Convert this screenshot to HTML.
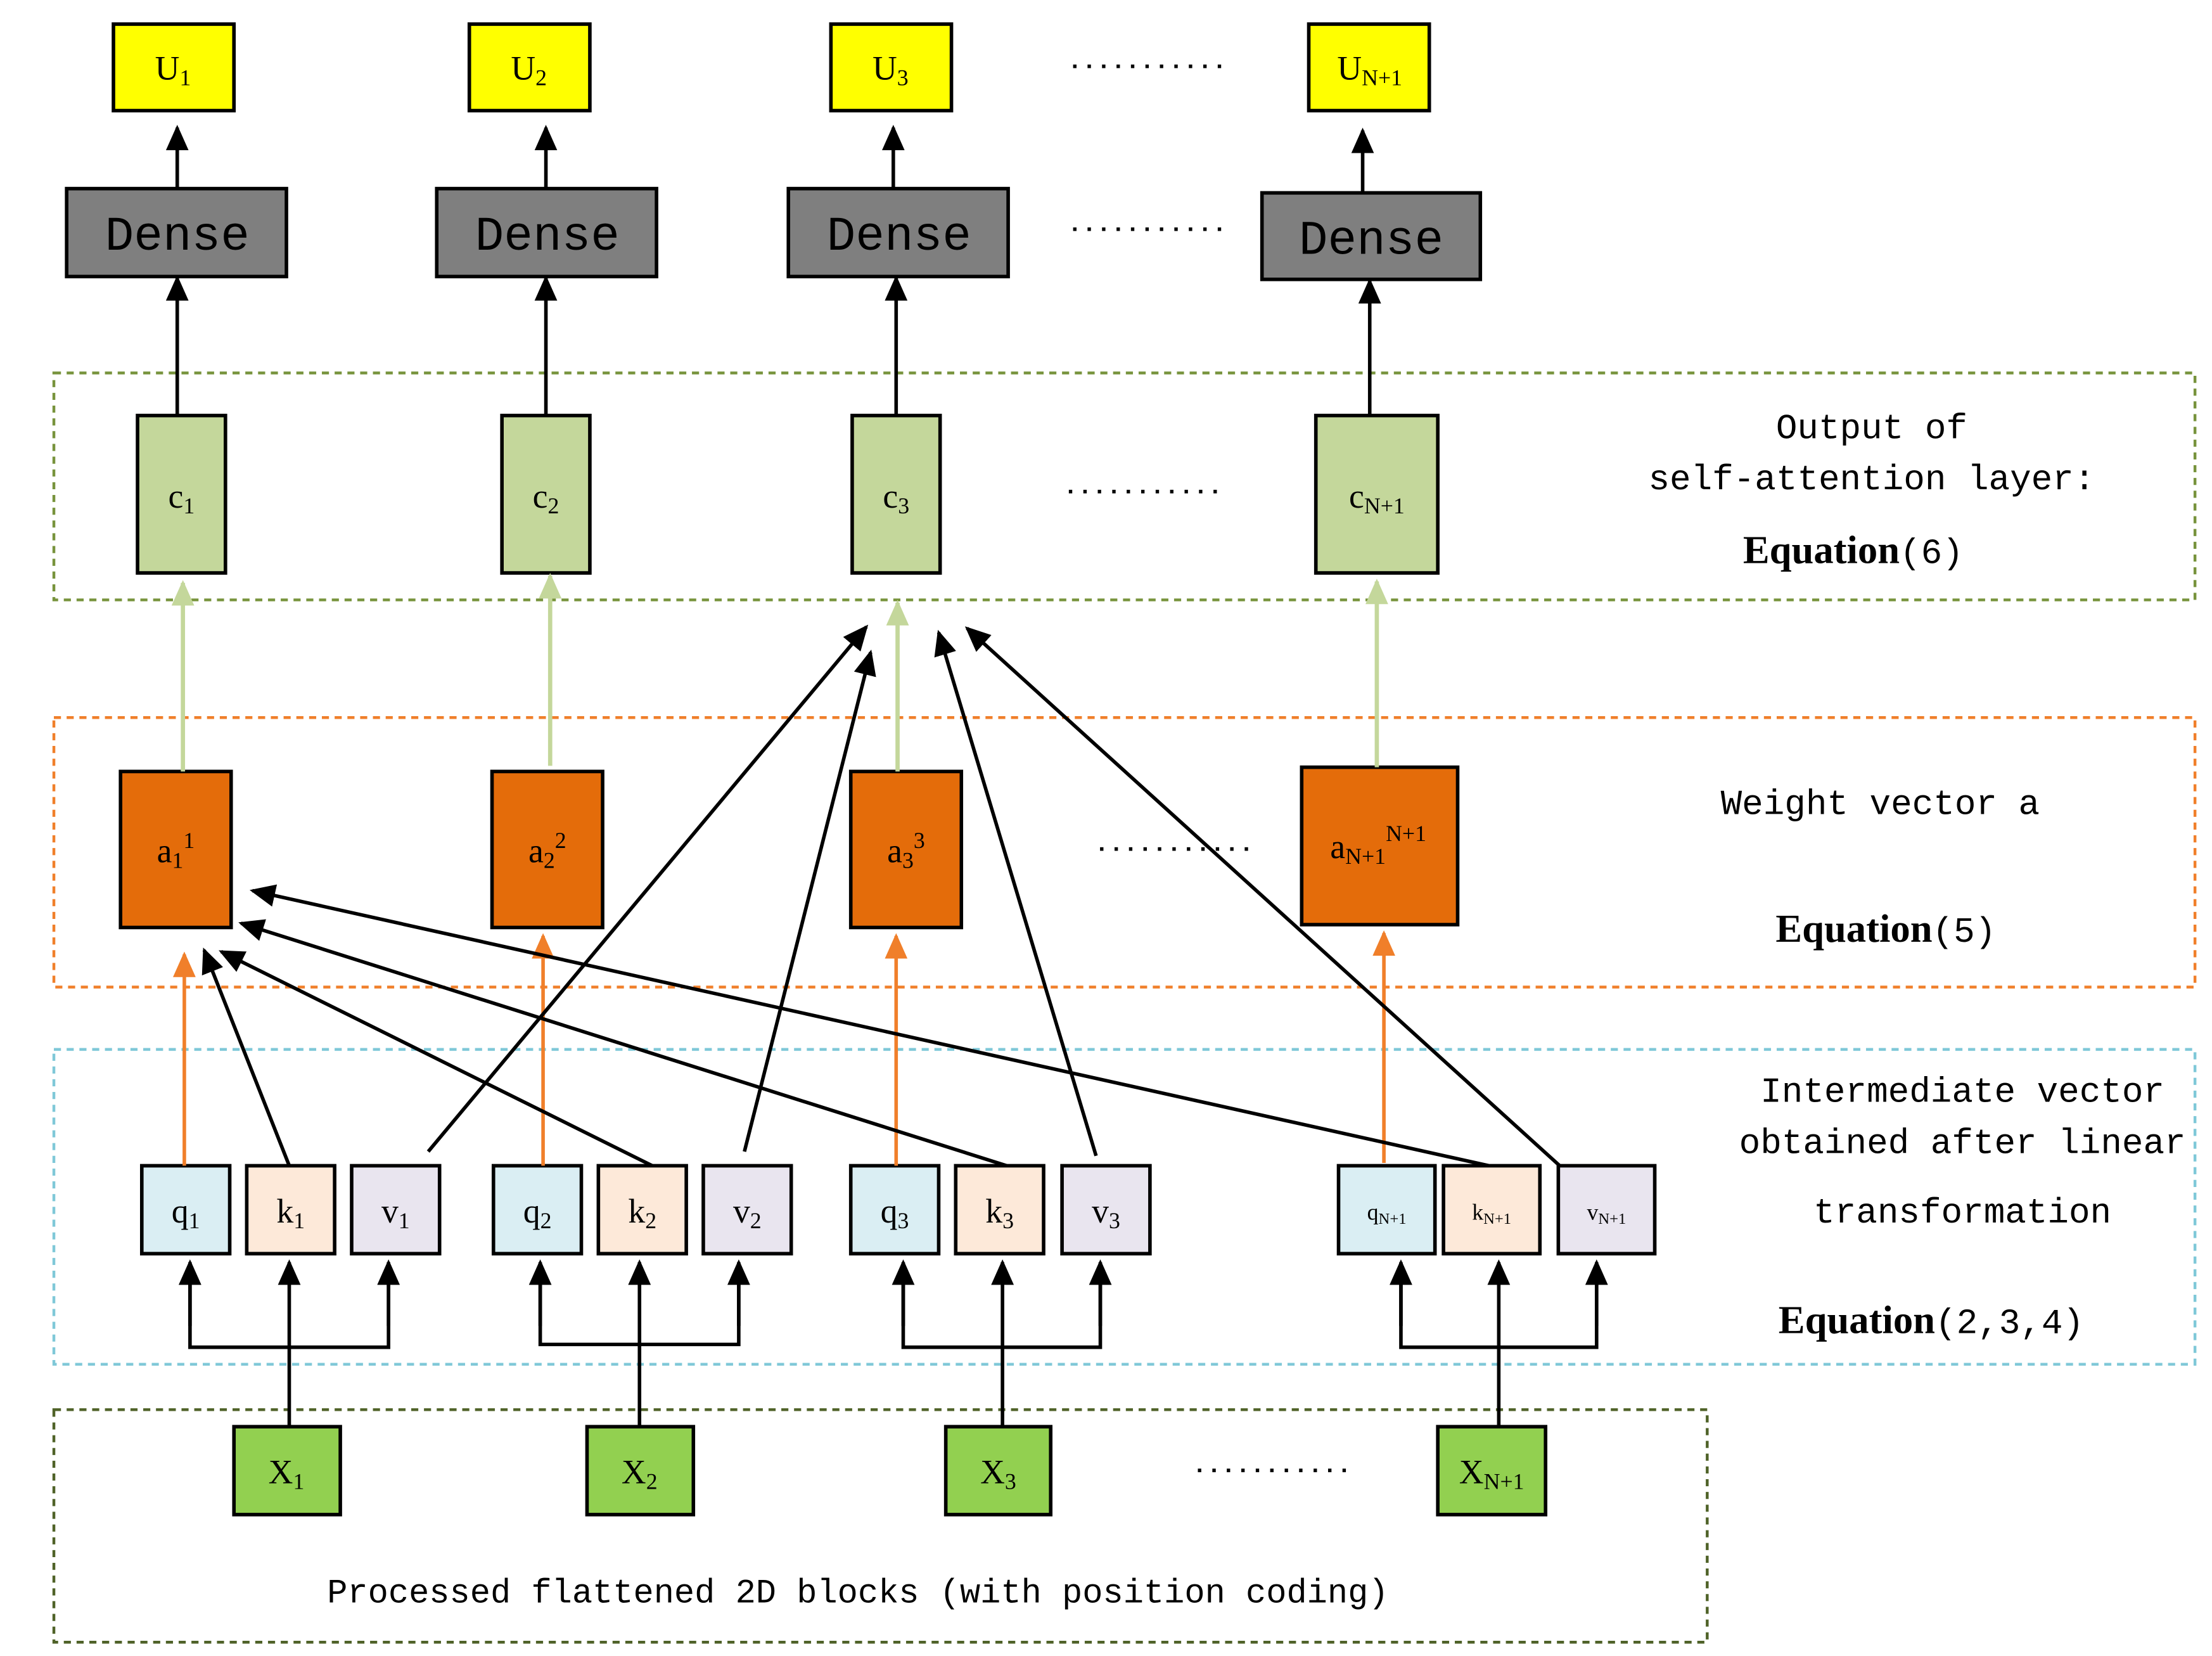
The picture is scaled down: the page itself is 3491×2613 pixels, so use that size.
<!DOCTYPE html>
<html><head><meta charset="utf-8"><style>
html,body{margin:0;padding:0;background:#fff;}
svg{display:block;}
.m{font-family:"Liberation Mono",monospace;font-size:25px;fill:#000;}
.s{font-family:"Liberation Serif",serif;font-size:24px;fill:#000;}
.b{font-family:"Liberation Serif",serif;font-weight:bold;font-size:28px;}
.d{font-family:"Liberation Mono",monospace;font-size:17px;font-weight:bold;fill:#000;}
.dn{font-family:"Liberation Mono",monospace;font-size:34px;fill:#000;}
</style></head><body>
<svg width="3491" height="2613" viewBox="0 0 1560 1167.7" preserveAspectRatio="none" xmlns="http://www.w3.org/2000/svg">
<defs>
<marker id="ak" markerWidth="18" markerHeight="16" refX="16" refY="8" orient="auto" markerUnits="userSpaceOnUse" viewBox="0 0 18 16"><path d="M0,0L18,8L0,16z" fill="#000"/></marker>
<marker id="ao" markerWidth="18" markerHeight="16" refX="16" refY="8" orient="auto" markerUnits="userSpaceOnUse" viewBox="0 0 18 16"><path d="M0,0L18,8L0,16z" fill="#f07f2a"/></marker>
<marker id="ag" markerWidth="18" markerHeight="16" refX="16" refY="8" orient="auto" markerUnits="userSpaceOnUse" viewBox="0 0 18 16"><path d="M0,0L18,8L0,16z" fill="#c4d79b"/></marker>
</defs>
<g stroke-width="2" fill="none" stroke-dasharray="5,4">
<rect x="38" y="263" width="1510" height="160" stroke="#77933c"/>
<rect x="38" y="506" width="1510" height="190" stroke="#f07f2a"/>
<rect x="38" y="740" width="1510" height="222" stroke="#7fc8d8"/>
<rect x="38" y="994" width="1166" height="164" stroke="#4f6228"/>
</g>
<g stroke="#000" stroke-width="2.5" fill="#ffff00">
<rect x="80" y="17" width="85" height="61"/><rect x="331" y="17" width="85" height="61"/>
<rect x="586" y="17" width="85" height="61"/><rect x="923" y="17" width="85" height="61"/>
</g>
<g class="s" text-anchor="middle">
<text x="122" y="56">U<tspan font-size="16" dy="4">1</tspan></text>
<text x="373" y="56">U<tspan font-size="16" dy="4">2</tspan></text>
<text x="628" y="56">U<tspan font-size="16" dy="4">3</tspan></text>
<text x="966" y="56">U<tspan font-size="16" dy="4">N+1</tspan></text>
</g>
<g stroke="#000" stroke-width="2.5" fill="#7f7f7f">
<rect x="47" y="133" width="155" height="62"/><rect x="308" y="133" width="155" height="62"/>
<rect x="556" y="133" width="155" height="62"/><rect x="890" y="136" width="154" height="61"/>
</g>
<g class="dn" text-anchor="middle">
<text x="125" y="176">Dense</text><text x="386" y="176">Dense</text>
<text x="634" y="176">Dense</text><text x="967" y="179">Dense</text>
</g>
<g stroke="#000" stroke-width="2.5" marker-end="url(#ak)">
<line x1="125" y1="133" x2="125" y2="90"/><line x1="385" y1="133" x2="385" y2="90"/>
<line x1="630" y1="133" x2="630" y2="90"/><line x1="961" y1="136" x2="961" y2="92"/>
<line x1="125" y1="293" x2="125" y2="196"/><line x1="385" y1="293" x2="385" y2="196"/>
<line x1="632" y1="293" x2="632" y2="196"/><line x1="966" y1="293" x2="966" y2="198"/>
</g>
<g stroke="#000" stroke-width="2.5" fill="#c4d79b">
<rect x="97" y="293" width="62" height="111"/><rect x="354" y="293" width="62" height="111"/>
<rect x="601" y="293" width="62" height="111"/><rect x="928" y="293" width="86" height="111"/>
</g>
<g class="s" text-anchor="middle">
<text x="128" y="358">c<tspan font-size="16" dy="4">1</tspan></text>
<text x="385" y="358">c<tspan font-size="16" dy="4">2</tspan></text>
<text x="632" y="358">c<tspan font-size="16" dy="4">3</tspan></text>
<text x="971" y="358">c<tspan font-size="16" dy="4">N+1</tspan></text>
</g>
<g class="d" text-anchor="middle">
<text x="809" y="48">...........</text><text x="809" y="163">...........</text>
<text x="806" y="348">...........</text><text x="828" y="600">...........</text>
<text x="897" y="1038">...........</text>
</g>
<g stroke="#000" stroke-width="2.5" fill="#e46c0a">
<rect x="85" y="544" width="78" height="110"/><rect x="347" y="544" width="78" height="110"/>
<rect x="600" y="544" width="78" height="110"/><rect x="918" y="541" width="110" height="111"/>
</g>
<g class="s" text-anchor="middle">
<text x="124" y="608">a<tspan font-size="16" dy="4">1</tspan><tspan font-size="16" dy="-14">1</tspan></text>
<text x="386" y="608">a<tspan font-size="16" dy="4">2</tspan><tspan font-size="16" dy="-14">2</tspan></text>
<text x="639" y="608">a<tspan font-size="16" dy="4">3</tspan><tspan font-size="16" dy="-14">3</tspan></text>
<text x="972" y="605">a<tspan font-size="16" dy="4">N+1</tspan><tspan font-size="16" dy="-16">N+1</tspan></text>
</g>
<g stroke="#c4d79b" stroke-width="3" marker-end="url(#ag)">
<line x1="129" y1="544" x2="129" y2="411"/><line x1="388" y1="540" x2="388" y2="406"/>
<line x1="633" y1="544" x2="633" y2="425"/><line x1="971" y1="541" x2="971" y2="410"/>
</g>
<g stroke="#000" stroke-width="2.5">
<rect x="100" y="822" width="62" height="62" fill="#daeef3"/><rect x="174" y="822" width="62" height="62" fill="#fde9d9"/><rect x="248" y="822" width="62" height="62" fill="#e9e5ef"/>
<rect x="348" y="822" width="62" height="62" fill="#daeef3"/><rect x="422" y="822" width="62" height="62" fill="#fde9d9"/><rect x="496" y="822" width="62" height="62" fill="#e9e5ef"/>
<rect x="600" y="822" width="62" height="62" fill="#daeef3"/><rect x="674" y="822" width="62" height="62" fill="#fde9d9"/><rect x="749" y="822" width="62" height="62" fill="#e9e5ef"/>
<rect x="944" y="822" width="68" height="62" fill="#daeef3"/><rect x="1018" y="822" width="68" height="62" fill="#fde9d9"/><rect x="1099" y="822" width="68" height="62" fill="#e9e5ef"/>
</g>
<g class="s" text-anchor="middle">
<text x="131" y="862">q<tspan font-size="16" dy="4">1</tspan></text><text x="205" y="862">k<tspan font-size="16" dy="4">1</tspan></text><text x="279" y="862">v<tspan font-size="16" dy="4">1</tspan></text>
<text x="379" y="862">q<tspan font-size="16" dy="4">2</tspan></text><text x="453" y="862">k<tspan font-size="16" dy="4">2</tspan></text><text x="527" y="862">v<tspan font-size="16" dy="4">2</tspan></text>
<text x="631" y="862">q<tspan font-size="16" dy="4">3</tspan></text><text x="705" y="862">k<tspan font-size="16" dy="4">3</tspan></text><text x="780" y="862">v<tspan font-size="16" dy="4">3</tspan></text>
<text x="978" y="860" style="font-size:16px">q<tspan font-size="11" dy="3">N+1</tspan></text><text x="1052" y="860" style="font-size:16px">k<tspan font-size="11" dy="3">N+1</tspan></text><text x="1133" y="860" style="font-size:16px">v<tspan font-size="11" dy="3">N+1</tspan></text>
</g>
<g stroke="#f07f2a" stroke-width="2.5" marker-end="url(#ao)">
<line x1="130" y1="822" x2="130" y2="673"/><line x1="383" y1="822" x2="383" y2="660"/>
<line x1="632" y1="822" x2="632" y2="660"/><line x1="976" y1="820" x2="976" y2="658"/>
</g>
<g stroke="#000" stroke-width="2.5" marker-end="url(#ak)">
<line x1="204" y1="822" x2="144" y2="670"/>
<line x1="460" y1="822" x2="156" y2="671"/>
<line x1="710" y1="822" x2="170" y2="651"/>
<line x1="1050" y1="822" x2="178" y2="628"/>
<line x1="302" y1="812" x2="611" y2="442"/>
<line x1="525" y1="812" x2="614" y2="460"/>
<line x1="773" y1="815" x2="662" y2="446"/>
<line x1="1100" y1="822" x2="682" y2="443"/>
</g>
<g stroke="#000" stroke-width="2.5" fill="none">
<polyline points="134,900 134,950 274,950 274,900"/>
<polyline points="381,900 381,948 521,948 521,900"/>
<polyline points="637,900 637,950 776,950 776,900"/>
<polyline points="988,900 988,950 1126,950 1126,900"/>
</g>
<g stroke="#000" stroke-width="2.5" marker-end="url(#ak)">
<line x1="134" y1="935" x2="134" y2="890"/><line x1="274" y1="935" x2="274" y2="890"/><line x1="204" y1="1006" x2="204" y2="890"/>
<line x1="381" y1="935" x2="381" y2="890"/><line x1="521" y1="935" x2="521" y2="890"/><line x1="451" y1="1006" x2="451" y2="890"/>
<line x1="637" y1="935" x2="637" y2="890"/><line x1="776" y1="935" x2="776" y2="890"/><line x1="707" y1="1006" x2="707" y2="890"/>
<line x1="988" y1="935" x2="988" y2="890"/><line x1="1126" y1="935" x2="1126" y2="890"/><line x1="1057" y1="1006" x2="1057" y2="890"/>
</g>
<g stroke="#000" stroke-width="2.5" fill="#92d050">
<rect x="165" y="1006" width="75" height="62"/><rect x="414" y="1006" width="75" height="62"/>
<rect x="667" y="1006" width="74" height="62"/><rect x="1014" y="1006" width="76" height="62"/>
</g>
<g class="s" text-anchor="middle">
<text x="202" y="1046">X<tspan font-size="16" dy="4">1</tspan></text>
<text x="451" y="1046">X<tspan font-size="16" dy="4">2</tspan></text>
<text x="704" y="1046">X<tspan font-size="16" dy="4">3</tspan></text>
<text x="1052" y="1046">X<tspan font-size="16" dy="4">N+1</tspan></text>
</g>
<g class="m" text-anchor="middle">
<text x="1320" y="309">Output of</text>
<text x="1320" y="345">self-attention layer:</text>
<text x="1307" y="397"><tspan class="b">Equation</tspan>(6)</text>
<text x="1326" y="574">Weight vector a</text>
<text x="1330" y="664"><tspan class="b">Equation</tspan>(5)</text>
<text x="1384" y="777">Intermediate vector</text>
<text x="1384" y="813">obtained after linear</text>
<text x="1384" y="862">transformation</text>
<text x="1362" y="940"><tspan class="b">Equation</tspan>(2,3,4)</text>
<text x="605" y="1130" style="font-size:24px">Processed flattened 2D blocks (with position coding)</text>
</g>
</svg>
</body></html>
